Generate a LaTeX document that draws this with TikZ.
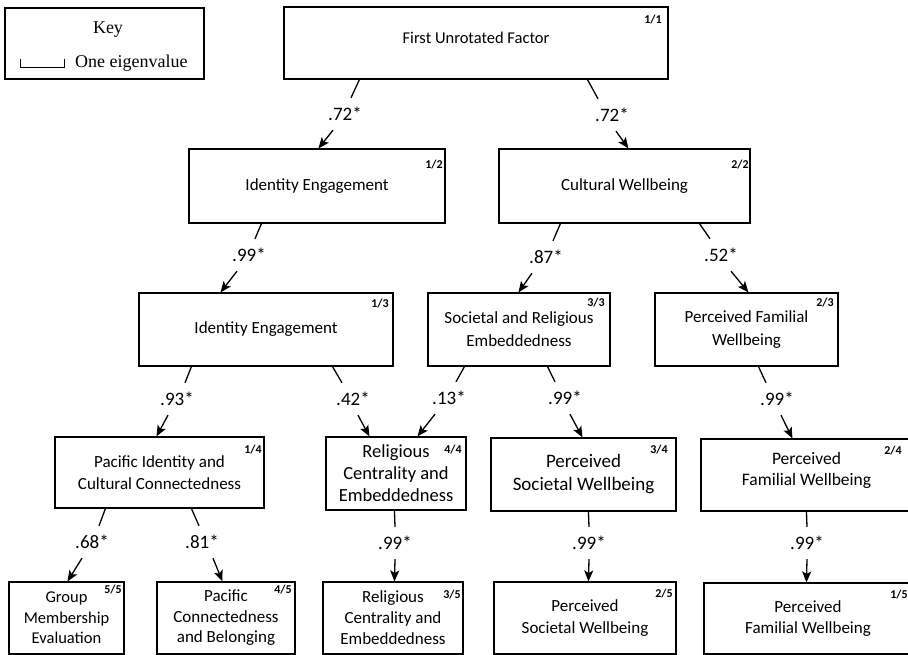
\documentclass[tikz,border=0pt]{standalone}
\usepackage{fontspec}
\setmainfont{Carlito}
\newfontfamily\keyfont{Liberation Serif}
\usetikzlibrary{arrows.meta}
\begin{document}
\begin{tikzpicture}[x=1pt,y=-1pt,
  box/.style={draw, line width=1.1pt, inner sep=0pt, align=center, font=\fontsize{17}{21.5}\selectfont},
  bigbox/.style={box, font=\fontsize{18.5}{22}\selectfont},
  tag/.style={font=\bfseries\fontsize{12}{13}\selectfont, inner sep=0pt},
  coef/.style={font=\fontsize{19}{21}\selectfont, inner sep=0pt, minimum height=32pt},
  conn/.style={line width=1.3pt},
  arr/.style={line width=1.3pt, -{Stealth[length=11pt,width=9pt,inset=2.5pt]}},
  keytext/.style={font=\keyfont\fontsize{18}{20}\selectfont, inner sep=0pt}]
\useasboundingbox (0,0) rectangle (908,655);
\clip (0,0) rectangle (908,655);

% Key
\node[draw, line width=1.1pt, minimum width=199pt, minimum height=71pt, inner sep=0pt] (key) at (104.5,43.5) {};
\node[keytext] (keyt) at (108,30) {Key};
\node[keytext, anchor=base west] (eig) at (75,68) {One eigenvalue};
\draw[line width=0.9pt] (20,59) -- (20,67) -- (64,67) -- (64,59);

% Boxes
\node[box, minimum width=384pt, minimum height=72pt, text depth=10pt, font=\fontsize{16.5}{20}\selectfont] (top) at (476,43) {First Unrotated Factor};
\node[box, minimum width=256pt, minimum height=74pt] (ie2) at (317,186) {Identity Engagement};
\node[box, minimum width=251pt, minimum height=74pt] (cw2) at (624.5,186) {Cultural Wellbeing};
\node[box, minimum width=254pt, minimum height=73pt] (ie3) at (266,329.5) {Identity Engagement};
\node[box, minimum width=182pt, minimum height=73pt, font=\fontsize{17}{23}\selectfont] (sre3) at (519,329.5) {Societal and Religious\\Embeddedness};
\node[box, minimum width=183pt, minimum height=73pt, font=\fontsize{17}{23}\selectfont] (pfw3) at (746.5,329.5) {Perceived Familial\\Wellbeing};
\node[box, minimum width=209pt, minimum height=71pt] (pic4) at (159.5,472.5) {Pacific Identity and\\Cultural Connectedness};
\node[bigbox, minimum width=140pt, minimum height=73pt] (rce4) at (396,473.5) {Religious\\Centrality and\\Embeddedness};
\node[box, minimum width=185pt, minimum height=73pt, font=\fontsize{19}{23}\selectfont] (psw4) at (583.5,474.5) {Perceived\\Societal Wellbeing};
\node[box, minimum width=211pt, minimum height=72pt, text depth=13pt, font=\fontsize{17.5}{21}\selectfont] (pfw4) at (806.5,475) {Perceived\\Familial Wellbeing};
\node[box, minimum width=115pt, minimum height=72pt, font=\fontsize{16.5}{20.5}\selectfont] (gme5) at (66.5,618) {Group\\Membership\\Evaluation};
\node[box, minimum width=138pt, minimum height=72pt, font=\fontsize{17}{20.5}\selectfont] (pcb5) at (226,618) {Pacific\\Connectedness\\and Belonging};
\node[box, minimum width=140pt, minimum height=72pt, font=\fontsize{17}{21}\selectfont] (rce5) at (393,618) {Religious\\Centrality and\\Embeddedness};
\node[box, minimum width=182pt, minimum height=72pt] (psw5) at (585,618) {Perceived\\Societal Wellbeing};
\node[box, minimum width=208pt, minimum height=71pt] (pfw5) at (808,618.5) {Perceived\\Familial Wellbeing};

% Tags
\node[tag] (t1) at (653,20) {1/1};
\node[tag] (t2) at (434,165) {1/2};
\node[tag] (t3) at (740,165) {2/2};
\node[tag] (t4) at (380,304) {1/3};
\node[tag] (t5) at (596,303) {3/3};
\node[tag] (t6) at (825,303) {2/3};
\node[tag] (t7) at (253,450) {1/4};
\node[tag] (t8) at (453,450) {4/4};
\node[tag] (t9) at (659,450) {3/4};
\node[tag] (t10) at (893,451) {2/4};
\node[tag] (t11) at (113,590) {5/5};
\node[tag] (t12) at (283,590) {4/5};
\node[tag] (t13) at (452,595) {3/5};
\node[tag] (t14) at (664,594) {2/5};
\node[tag] (t15) at (899,595) {1/5};

% Coefficients
\node[coef] (l1) at (345,114) {.72*};
\node[coef] (l2) at (612,115) {.72*};
\node[coef] (l3) at (249,255) {.99*};
\node[coef] (l4) at (546,257) {.87*};
\node[coef] (l5) at (721,255) {.52*};
\node[coef] (l6) at (177,399) {.93*};
\node[coef] (l7) at (353,399) {.42*};
\node[coef] (l8) at (449,398) {.13*};
\node[coef] (l9) at (565,398) {.99*};
\node[coef] (l10) at (777,399) {.99*};
\node[coef] (l11) at (92,542) {.68*};
\node[coef] (l12) at (202,542) {.81*};
\node[coef] (l13) at (395,543) {.99*};
\node[coef] (l14) at (589,543) {.99*};
\node[coef] (l15) at (807,543) {.99*};

% Connectors
\draw[conn] ([xshift=76pt]top.south west) -- ([xshift=6pt]l1.north);
\draw[arr] ([xshift=-12pt]l1.south) -- ([xshift=130pt]ie2.north west);
\draw[conn] ([xshift=304pt]top.south west) -- ([xshift=-14pt]l2.north);
\draw[arr] ([xshift=4pt]l2.south) -- ([xshift=130pt]cw2.north west);
\draw[conn] ([xshift=73pt]ie2.south west) -- ([xshift=6pt]l3.north);
\draw[arr] ([xshift=-12pt]l3.south) -- ([xshift=82pt]ie3.north west);
\draw[conn] ([xshift=62pt]cw2.south west) -- ([xshift=7pt]l4.north);
\draw[arr] ([xshift=-14pt]l4.south) -- ([xshift=91pt]sre3.north west);
\draw[conn] ([xshift=201pt]cw2.south west) -- ([xshift=-11pt]l5.north);
\draw[arr] ([xshift=10pt]l5.south) -- ([xshift=94pt]pfw3.north west);
\draw[conn] ([xshift=53pt]ie3.south west) -- ([xshift=8pt]l6.north);
\draw[arr] ([xshift=-9pt]l6.south) -- ([xshift=102pt]pic4.north west);
\draw[conn] ([xshift=194pt]ie3.south west) -- ([xshift=-11pt]l7.north);
\draw[arr] ([xshift=5pt]l7.south) -- ([xshift=44pt]rce4.north west);
\draw[conn] ([xshift=37pt]sre3.south west) -- ([xshift=7pt]l8.north);
\draw[arr] ([xshift=-14pt]l8.south) -- ([xshift=92pt]rce4.north west);
\draw[conn] ([xshift=120pt]sre3.south west) -- ([xshift=-10pt]l9.north);
\draw[arr] ([xshift=5pt]l9.south) -- ([xshift=92pt]psw4.north west);
\draw[conn] ([xshift=104pt]pfw3.south west) -- ([xshift=-11pt]l10.north);
\draw[arr] ([xshift=4pt]l10.south) -- ([xshift=92pt]pfw4.north west);
\draw[conn] ([xshift=51pt]pic4.south west) -- ([xshift=7pt]l11.north);
\draw[arr] ([xshift=-10pt]l11.south) -- ([xshift=59pt]gme5.north west);
\draw[conn] ([xshift=137pt]pic4.south west) -- ([xshift=-3pt]l12.north);
\draw[arr] ([xshift=11pt]l12.south) -- ([xshift=66pt]pcb5.north west);
\draw[conn] ([xshift=69pt]rce4.south west) -- (l13.north);
\draw[arr] (l13.south) -- ([xshift=72pt]rce5.north west);
\draw[conn] ([xshift=98pt]psw4.south west) -- (l14.north);
\draw[arr] (l14.south) -- ([xshift=95pt]psw5.north west);
\draw[conn] ([xshift=106pt]pfw4.south west) -- (l15.north);
\draw[arr] (l15.south) -- ([xshift=103pt]pfw5.north west);
\end{tikzpicture}
\end{document}
